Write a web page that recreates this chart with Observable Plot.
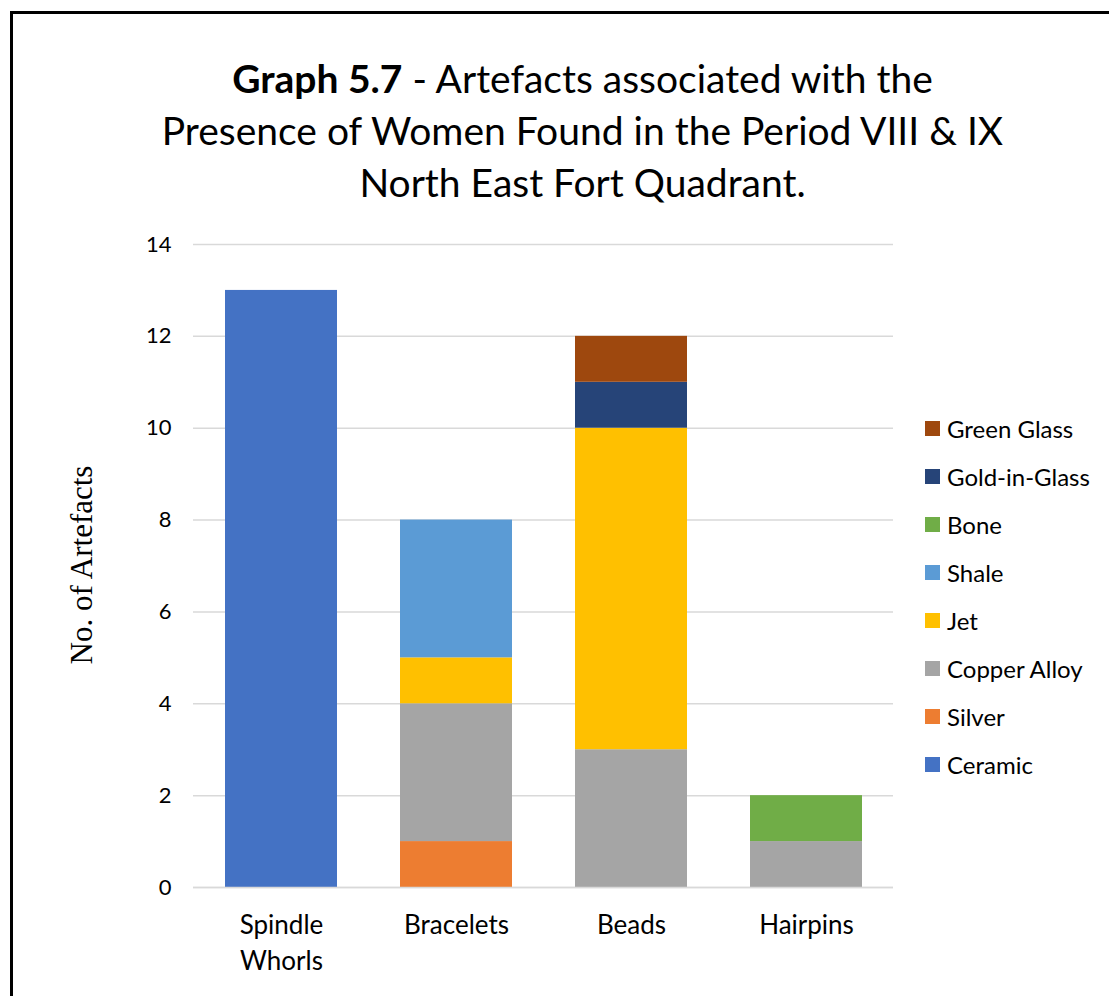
<!DOCTYPE html>
<html>
<head>
<meta charset="utf-8">
<script src="https://cdn.jsdelivr.net/npm/d3@7"></script>
<script src="https://cdn.jsdelivr.net/npm/@observablehq/plot@0.6"></script>
<style>
  html, body { margin: 0; padding: 0; background: #fff; }
  #wrap { position: relative; width: 1109px; height: 996px; overflow: hidden; font-family: Lato, "Open Sans", sans-serif; }
  #frame { position: absolute; left: 10px; top: 11px; width: 1200px; height: 1100px; border-left: 3px solid #000; border-top: 3px solid #000; box-sizing: border-box; }
  #title { position: absolute; left: 60px; width: 1045px; top: 52px; text-align: center; font-size: 39px; line-height: 52px; color: #000; }
  #ylabel { position: absolute; left: 82px; top: 565px; transform: translate(-50%, -50%) rotate(-90deg); font-family: "Liberation Serif", "Times New Roman", serif; font-size: 31px; white-space: nowrap; color: #000; }
  #chart { position: absolute; left: 0; top: 220px; }
  #legend { position: absolute; left: 925px; top: 404px; font-size: 24px; color: #000; }
  .li { height: 48px; display: flex; align-items: center; }
  .sw { width: 15px; height: 15px; margin-right: 7px; }
  #chart svg text { font-size: 26px; }
  #chart g[aria-label="y-axis tick label"] text { font-size: 22px !important; }
</style>
</head>
<body>
<div id="wrap">
  <div id="frame"></div>
  <div id="title"><b>Graph 5.7</b> - Artefacts associated with the<br>Presence of Women Found in the Period VIII &amp; IX<br>North East Fort Quadrant.</div>
  <div id="ylabel">No. of Artefacts</div>
  <div id="chart"></div>
  <div id="legend"></div>
</div>
<script>
const categories = ["Spindle Whorls", "Bracelets", "Beads", "Hairpins"];
const categoryLabels = ["Spindle\nWhorls", "Bracelets", "Beads", "Hairpins"];
const materials = ["Ceramic", "Silver", "Copper Alloy", "Jet", "Shale", "Bone", "Gold-in-Glass", "Green Glass"];
const colors = ["#4472C4", "#ED7D31", "#A5A5A5", "#FFC000", "#5B9BD5", "#70AD47", "#264478", "#9E480E"];
// counts per material, in category order
const ceramic = [13, 0, 0, 0];
const silver = [0, 1, 0, 0];
const copperAlloy = [0, 3, 3, 1];
const jet = [0, 1, 7, 0];
const shale = [0, 3, 0, 0];
const bone = [0, 0, 0, 1];
const goldInGlass = [0, 0, 1, 0];
const greenGlass = [0, 0, 1, 0];
const yTicks = [0, 2, 4, 6, 8, 10, 12, 14];

const series = [ceramic, silver, copperAlloy, jet, shale, bone, goldInGlass, greenGlass];
const data = [];
materials.forEach((m, i) => categories.forEach((c, j) => {
  if (series[i][j] > 0) data.push({category: c, material: m, value: series[i][j]});
}));

const chart = Plot.plot({
  width: 1109,
  height: 776,
  marginLeft: 193,
  marginRight: 216,
  marginTop: 24,
  marginBottom: 109,
  style: {fontFamily: "Lato, 'Open Sans', sans-serif", color: "#000", background: "transparent"},
  x: {domain: categories, paddingInner: 0.36, paddingOuter: 0.18},
  y: {domain: [0, 14]},
  color: {domain: materials, range: colors},
  marks: [
    Plot.gridY(yTicks, {stroke: "#d9d9d9", strokeOpacity: 1, strokeWidth: 1.5}),
    Plot.axisY(yTicks, {tickSize: 0, tickPadding: 22, fontSize: 22, label: null}),
    Plot.axisX({tickSize: 0, tickPadding: 22, fontSize: 26, lineHeight: 1.35, label: null,
      tickFormat: d => categoryLabels[categories.indexOf(d)]}),
    Plot.barY(data, Plot.stackY({x: "category", y: "value", fill: "material", order: materials})),
    Plot.ruleY([0], {stroke: "#d9d9d9", strokeWidth: 1.5})
  ]
});
document.getElementById("chart").appendChild(chart);

const legend = document.getElementById("legend");
materials.slice().reverse().forEach(m => {
  const row = document.createElement("div");
  row.className = "li";
  const sw = document.createElement("div");
  sw.className = "sw";
  sw.style.background = colors[materials.indexOf(m)];
  const t = document.createElement("span");
  t.textContent = m;
  row.appendChild(sw); row.appendChild(t);
  legend.appendChild(row);
});
</script>
</body>
</html>
